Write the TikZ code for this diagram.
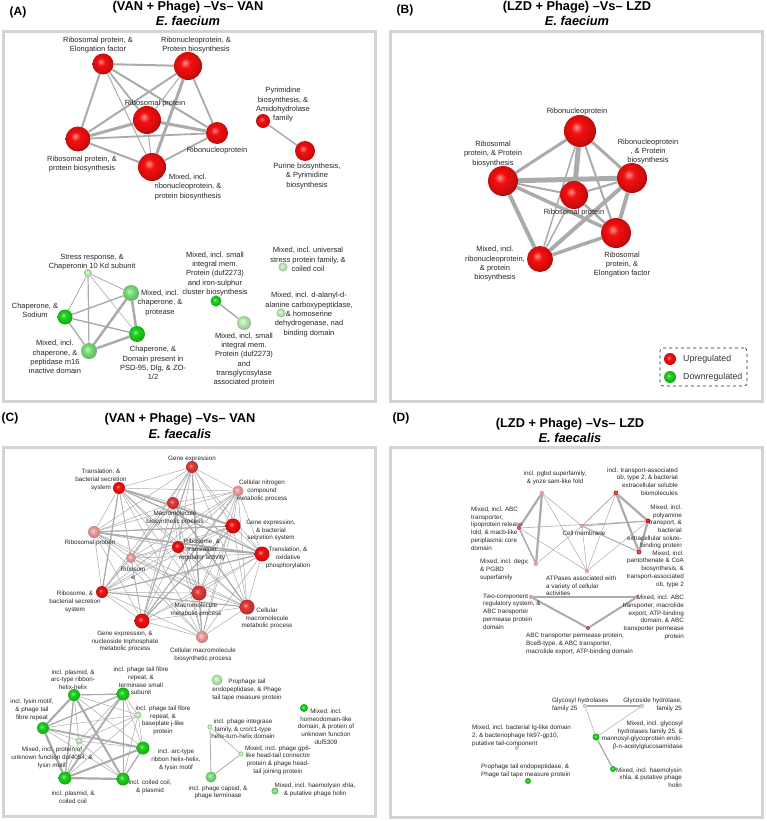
\documentclass[tikz,border=0pt]{standalone}
\usepackage{fontspec}
\setmainfont{Liberation Sans}
\usepackage{xcolor}
\usepackage{tikz}
\usetikzlibrary{backgrounds}
\definecolor{linkgray}{HTML}{ABABAB}
\definecolor{framegray}{HTML}{D4D4D4}
\definecolor{upred}{HTML}{F50F0F}
\definecolor{midred}{HTML}{E53A3A}
\definecolor{palered}{HTML}{F2A0A0}
\definecolor{dngreen}{HTML}{1ED21E}
\definecolor{ltgreen}{HTML}{7DE27D}
\definecolor{palegreen}{HTML}{BDEFB5}
\colorlet{beadcol}{upred}
\pgfdeclareradialshading[beadcol]{bead}{\pgfpoint{-6bp}{6bp}}{color(0bp)=(beadcol!45!white); color(9bp)=(beadcol); color(24bp)=(beadcol!82!black); color(31bp)=(beadcol!55!black); color(50bp)=(beadcol!55!black)}

\begin{document}
\begin{tikzpicture}[x=1pt,y=-1pt,
  bead/.style={circle,inner sep=0pt,minimum size=#1,shading=bead},
  bead color/.code={\colorlet{beadcol}{#1}},
  lk/.style={linkgray,line width=#1},
  frame/.style={framegray,line width=3pt},
  tag/.style={font=\fontsize{12}{14}\selectfont\bfseries},
  head/.style={font=\fontsize{12.8}{14}\selectfont\bfseries},
  labA/.style={font=\fontsize{7.5}{9.3}\selectfont,text=black!85,align=center,inner sep=0pt},
  labC/.style={font=\fontsize{6.3}{7.7}\selectfont,text=black!85,align=center,inner sep=0pt}]
\useasboundingbox (0,0) rectangle (766,821);

% panel frames
\draw [frame] (3.5,31.5) rectangle (375.5,401.5);
\draw [frame] (390.5,31.5) rectangle (762.5,401.5);
\draw [frame] (3.5,447.5) rectangle (375.5,816.5);
\draw [frame] (390.5,447.5) rectangle (762.5,817.5);

\node [tag] (tagA) at (18,12) {(A)};
\node [head] (headA) at (188,7) {(VAN + Phage) –Vs– VAN};
\node [head] (specA) at (188,21) {\itshape E. faecium};
\node [tag] (tagB) at (405,10) {(B)};
\node [head] (headB) at (577,7) {(LZD + Phage) –Vs– LZD};
\node [head] (specB) at (577,21) {\itshape E. faecium};
\node [tag] (tagC) at (10,418) {(C)};
\node [head] (headC) at (180,419) {(VAN + Phage) –Vs– VAN};
\node [head] (specC) at (180,434) {\itshape E. faecalis};
\node [tag] (tagD) at (401,418) {(D)};
\node [head] (headD) at (570,424) {(LZD + Phage) –Vs– LZD};
\node [head] (specD) at (570,438) {\itshape E. faecalis};

% panel A
\foreach \n/\x/\y/\s/\col in {a1/103/64/21/upred, a2/188/66/28/upred, a3/147/120/28/upred,
    a4/78/139/25/upred, a5/217/133/22/upred, a6/152/167/28/upred, a7/263/121/14/upred,
    a8/305/151/20/upred, s1/88/273/8/palegreen, s2/131/293/16/ltgreen, s3/65/317/15/dngreen,
    s4/137/334/16/dngreen, s5/89/351/16/ltgreen, t1/216/301/11/dngreen, t2/244/323/14/palegreen,
    u1/283/267/9/palegreen, u2/281/313/9/palegreen}
  \node [bead=\s, bead color=\col] (\n) at (\x,\y) {};

\node [labA] (la1) at (98,45) {Ribosomal protein, \&\\Elongation factor};
\node [labA] (la2) at (196,45) {Ribonucleoprotein, \&\\Protein biosynthesis};
\node [labA] (la3) at (155,104) {Ribosomal protein};
\node [labA] (la4) at (82,164) {Ribosomal protein, \&\\protein biosynthesis};
\node [labA] (la5) at (217,151) {Ribonucleoprotein};
\node [labA] (la6) at (188,187) {Mixed, incl.\\ribonucleoprotein, \&\\protein biosynthesis};
\node [labA] (la7) at (283,105) {Pyrimidine\\biosynthesis, \&\\Amidohydrolase\\family};
\node [labA] (la8) at (307,176) {Purine biosynthesis,\\\& Pyrimidine\\biosynthesis};
\node [labA] (ls1) at (92,262) {Stress response, \&\\Chaperonin 10 Kd subunit};
\node [labA] (ls2) at (160,303) {Mixed, incl.\\chaperone, \&\\protease};
\node [labA] (ls3) at (35,310) {Chaperone, \&\\Sodium};
\node [labA] (ls4) at (153,363) {Chaperone, \&\\Domain present in\\PSD-95, Dlg, \& ZO-\\1/2};
\node [labA] (ls5) at (55,357) {Mixed, incl.\\chaperone, \&\\peptidase m16\\inactive domain};
\node [labA] (lt1) at (215,274) {Mixed, incl. small\\integral mem.\\Protein (duf2273)\\and iron-sulphur\\cluster biosynthesis};
\node [labA] (lt2) at (244,359.5) {Mixed, incl. small\\integral mem.\\Protein (duf2273)\\and\\transglycosylase\\associated protein};
\node [labA] (lu1) at (308,259.5) {Mixed, incl. universal\\stress protein family, \&\\coiled coil};
\node [labA] (lu2) at (309,314.5) {Mixed, incl. d-alanyl-d-\\alanine carboxypeptidase,\\\& homoserine\\dehydrogenase, nad\\binding domain};

% panel B
\foreach \n/\x/\y/\s/\col in {b1/580/131/32/upred, b2/503/181/30/upred, b3/632/178/30/upred,
    b4/574/195/28/upred, b5/616/233/30/upred, b6/540/259/26/upred,
    k1/670/359/12/upred, k2/670/377/12/dngreen}
  \node [bead=\s, bead color=\col] (\n) at (\x,\y) {};

\node [labA] (lb1) at (577,112) {Ribonucleoprotein};
\node [labA] (lb2) at (493,154) {Ribosomal\\protein, \& Protein\\biosynthesis};
\node [labA] (lb3) at (648,151.5) {Ribonucleoprotein\\, \& Protein\\biosynthesis};
\node [labA] (lb4) at (574,213) {Ribosomal protein};
\node [labA] (lb5) at (622,264.5) {Ribosomal\\protein, \&\\Elongation factor};
\node [labA] (lb6) at (495,264) {Mixed, incl.\\ribonucleoprotein,\\\& protein\\biosynthesis};

\node [draw=black!85, dashed, rounded corners=3pt, line width=0.6pt, inner sep=0pt,
  minimum width=87pt, minimum height=38pt] (legend) at (703.5,367) {};
\node [anchor=west, inner sep=0pt, font=\fontsize{8.8}{10}\selectfont, text=black!80] (lk1) at (683,359) {Upregulated};
\node [anchor=west, inner sep=0pt, font=\fontsize{8.8}{10}\selectfont, text=black!80] (lk2) at (683,377) {Downregulated};

% panel C
\foreach \n/\x/\y/\s/\col in {c1/192/467/12/midred, c2/119/488/12/upred, c3/238/491/11/palered,
    c4/173/503/12/midred, c5/233/526/15/upred, c6/94/532/12/palered, c7/178/547/12/upred,
    c8/262/554/15/upred, c9/131/558/10/palered, c10/102/592/12/upred, c11/199/593/15/midred,
    c12/247/607/15/midred, c13/142/621/15/upred, c14/202/637/12/palered,
    g1/74/695/12/dngreen, g2/123/694/13/dngreen, g3/43/728/12/dngreen, g4/138/715/7/palegreen,
    g5/79/741/7/palegreen, g6/143/748/13/dngreen, g7/65/778/13/dngreen, g8/123/779/13/dngreen,
    p1/217/680/11/palegreen, p2/304/708/8/dngreen, p3/210/727/5/palegreen, p4/241/754/5/palegreen,
    p5/211/777/11/ltgreen, p6/275/791/7/ltgreen}
  \node [bead=\s, bead color=\col] (\n) at (\x,\y) {};

\node [labC] (lc1) at (192,459) {Gene expression};
\node [labC] (lc2) at (101,480) {Translation, \&\\bacterial secretion\\system};
\node [labC] (lc3) at (262,491) {Cellular nitrogen\\compound\\metabolic process};
\node [labC] (lc4) at (175,518) {Macromolecule\\biosynthetic process};
\node [labC] (lc5) at (271,530.5) {Gene expression,\\\& bacterial\\secretion system};
\node [labC] (lc6) at (90,543) {Ribosomal protein};
\node [labC] (lc7) at (202,550) {Ribosome, \&\\translation\\regulator activity};
\node [labC] (lc8) at (288,558) {Translation, \&\\oxidative\\phosphorylation};
\node [labC] (lc9) at (133,573) {Ribosom\\e};
\node [labC] (lc10) at (75,602) {Ribosome, \&\\bacterial secretion\\system};
\node [labC] (lc11) at (196,610) {Macromolecule\\metabolic process};
\node [labC] (lc12) at (267,618.5) {Cellular\\macromolecule\\metabolic process};
\node [labC] (lc13) at (125,641.5) {Gene expression, \&\\nucleoside triphosphate\\metabolic process};
\node [labC] (lc14) at (203,655) {Cellular macromolecule\\biosynthetic process};
\node [labC] (lg1) at (73,679.5) {incl. plasmid, \&\\arc-type ribbon-\\helix-helix};
\node [labC] (lg2) at (141,681) {incl. phage tail fibre\\repeat, \&\\terminase small\\subunit};
\node [labC] (lg3) at (32,710) {incl. lysin motif,\\\& phage tail\\fibre repeat};
\node [labC] (lg4) at (163,720.5) {incl. phage tail fibre\\repeat, \&\\baseplate j-like\\protein};
\node [labC] (lg5) at (52,758) {Mixed, incl. protein of\\unknown function duf4054, \&\\lysin motif};
\node [labC] (lg6) at (176,760) {incl. arc-type\\ribbon helix-helix,\\\& lysin motif};
\node [labC] (lg7) at (73,797) {incl. plasmid, \&\\coiled coil};
\node [labC] (lg8) at (150,787) {incl. coiled coil,\\\& plasmid};
\node [labC] (lp1) at (247,690) {Prophage tail\\endopeptidase, \& Phage\\tail tape measure protein};
\node [labC] (lp2) at (326,726.5) {Mixed, incl.\\homeodomain-like\\domain, \& protein of\\unknown function\\duf5309};
\node [labC] (lp3) at (243,729) {incl. phage integrase\\family, \& cro/c1-type\\helix-turn-helix domain};
\node [labC] (lp4) at (278,760) {Mixed, incl. phage gp6-\\like head-tail connector\\protein \& phage head-\\tail joining protein};
\node [labC] (lp5) at (218,792.5) {incl. phage capsid, \&\\phage terminase};
\node [labC] (lp6) at (315,790) {Mixed, incl. haemolysin xhla,\\\& putative phage holin};

% panel D
\foreach \n/\x/\y/\s/\col in {d1/542/493/4/palered, d2/616/493/5/midred, d3/519/528/4/midred,
    d4/582/526/4/palered, d5/648/521/5/upred, d6/639/552/5/midred, d7/536/564/4/palered,
    d8/587/571/4/palered, d9/531/597/4/palered, d10/637/597/4/palered, d11/588/628/4/midred,
    d12/585/706/4/palegreen, d13/642/706/4/palegreen, d14/596/737/7/dngreen, d15/613/769/6/dngreen,
    d16/517/748/4/palegreen, d17/528/781/6/dngreen}
  \node [bead=\s, bead color=\col] (\n) at (\x,\y) {};

\node [labC] (ld1) at (555,478) {incl. pgbd superfamily,\\\& yoze sam-like fold};
\node [labC, anchor=east, align=right] (ld2) at (678,481.5) {incl. transport-associated\\ob, type 2, \& bacterial\\extracellular soluble\\biomolecules};
\node [labC, anchor=west, align=left] (ld3) at (471,528.5) {Mixed, incl. ABC\\transporter,\\lipoprotein release\\lold, \& macb-like\\periplasmic core\\domain};
\node [labC] (ld4) at (584,533) {Cell membrane};
\node [labC, anchor=east, align=right] (ld5) at (682,527) {Mixed, incl.\\polyamine\\transport, \&\\bacterial\\extracellular solute-\\binding protein};
\node [labC, anchor=east, align=right] (ld6) at (684,569) {Mixed, incl.\\pantothenate \& CoA\\biosynthesis, \&\\transport-associated\\ob, type 2};
\node [labC, anchor=west, align=left] (ld7) at (480,570) {Mixed, incl. degv,\\\& PGBD\\superfamily};
\node [labC, anchor=west, align=left] (ld8) at (546,586) {ATPases associated with\\a variety of cellular\\activities};
\node [labC, anchor=west, align=left] (ld9) at (483,611.5) {Two-component\\regulatory system, \&\\ABC transporter\\permease protein\\domain};
\node [labC, anchor=east, align=right] (ld10) at (684,617.5) {Mixed, incl. ABC\\transporter, macrolide\\export, ATP-binding\\domain, \& ABC\\transporter permease\\protein};
\node [labC, anchor=west, align=left] (ld11) at (526,644) {ABC transporter permease protein,\\BceB-type, \& ABC transporter,\\macrolide export, ATP-binding domain};
\node [labC, anchor=west, align=left] (ld12) at (552,705) {Glycosyl hydrolases\\family 25};
\node [labC, anchor=east, align=right] (ld13) at (682,705) {Glycoside hydrolase,\\family 25};
\node [labC, anchor=east, align=right] (ld14) at (683,735.5) {Mixed, incl. glycosyl\\hydrolases family 25, \&\\mannosyl-glycoprotein endo-\\β-n-acetylglucosamidase};
\node [labC, anchor=east, align=right] (ld15) at (682,777.5) {Mixed, incl. haemolysin\\xhla, \& putative phage\\holin};
\node [labC, anchor=west, align=left] (ld16) at (472,736) {Mixed, incl. bacterial Ig-like domain\\2, \& bacteriophage hk97-gp10,\\putative tail-component};
\node [labC, anchor=west, align=left] (ld17) at (481,771) {Prophage tail endopeptidase, \&\\Phage tail tape measure protein};

% links, kept behind the beads and the labels
\begin{scope}[on background layer]
\foreach \u/\v/\w in {a1/a2/2pt, a1/a4/2pt, a1/a3/1.8pt, a1/a5/2pt, a1/a6/1pt, a2/a4/2pt,
    a2/a3/1pt, a2/a6/3pt, a2/a5/1.8pt, a3/a4/3pt, a3/a5/3pt, a3/a6/1pt, a4/a5/1.8pt,
    a4/a6/2pt, a5/a6/1.8pt, a7/a8/1.5pt,
    s1/s2/0.8pt, s1/s3/0.8pt, s1/s5/1.2pt, s1/s4/0.6pt, s3/s2/1.4pt, s3/s4/1.4pt,
    s3/s5/1.4pt, s2/s5/2.5pt, s2/s4/2.5pt, s4/s5/2.5pt, t1/t2/1.5pt,
    b1/b4/5pt, b2/b3/5pt, b1/b2/3pt, b1/b3/3pt, b1/b5/2pt, b1/b6/1.5pt, b2/b6/4pt,
    b2/b5/3.5pt, b2/b4/2pt, b3/b6/4pt, b3/b5/4pt, b3/b4/2pt, b4/b6/1.5pt, b4/b5/2.5pt,
    b5/b6/3.5pt}
  \draw [lk=\w] (\u) -- (\v);
\foreach \i [count=\k from 2] in {1,...,13}
  \foreach \j in {\k,...,14}
    \draw [lk=0.5pt] (c\i) -- (c\j);
\foreach \i [count=\k from 2] in {1,...,7}
  \foreach \j in {\k,...,8}
    \draw [lk=0.5pt] (g\i) -- (g\j);
\foreach \u/\v/\w in {c2/c5/1.6pt, c6/c8/1.6pt, c2/c10/1.2pt, c2/c8/1.2pt, c1/c11/1.2pt,
    c1/c13/1pt, c4/c12/1.2pt, c10/c8/1.2pt, c13/c5/1.2pt, c6/c5/1.2pt, c3/c13/1pt,
    c11/c14/1pt, c7/c8/1.2pt, c10/c12/1pt,
    g1/g3/2.2pt, g3/g7/2.2pt, g7/g8/2.2pt, g1/g8/2pt, g3/g6/1.8pt, g7/g6/2pt, g2/g7/1.8pt,
    g1/g2/1.2pt, g2/g3/1.2pt, g1/g7/1.2pt, g6/g8/1.2pt, g2/g8/0.8pt,
    p3/p5/0.8pt, p4/p5/0.8pt, p3/p4/0.6pt,
    d1/d3/2.2pt, d1/d7/2.2pt, d3/d7/1.5pt, d1/d4/0.5pt, d1/d8/0.5pt, d3/d5/0.6pt,
    d3/d8/0.5pt, d7/d4/0.5pt, d4/d2/0.8pt, d4/d5/1pt, d4/d6/1pt, d4/d8/0.5pt,
    d2/d5/2.2pt, d2/d6/2.2pt, d5/d6/2.2pt, d2/d8/0.5pt, d5/d8/0.5pt,
    d9/d10/2pt, d9/d11/2pt, d10/d11/2pt,
    d12/d13/2.5pt, d12/d14/0.5pt, d13/d14/0.5pt, d14/d15/1.3pt}
  \draw [lk=\w] (\u) -- (\v);
\end{scope}
\end{tikzpicture}
\end{document}
